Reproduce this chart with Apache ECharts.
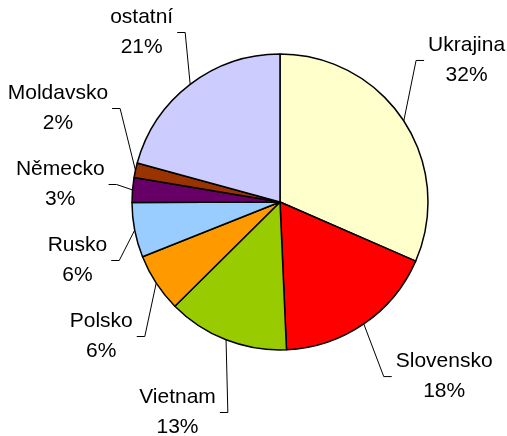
<!DOCTYPE html>
<html>
<head>
<meta charset="utf-8">
<script src="https://cdn.jsdelivr.net/npm/echarts@6/dist/echarts.min.js"></script>
<style>
    html, body { margin: 0; padding: 0; background: #fff; }
    #main { width: 507px; height: 436px; }
</style>
</head>
<body>
<div id="main"></div>
<script>
// data (percent of total)
var countries = ['Ukrajina', 'Slovensko', 'Vietnam', 'Polsko', 'Rusko', 'Německo', 'Moldavsko', 'ostatní'];
var shares = [31.6, 17.8, 13.3, 6.4, 6.0, 2.7, 1.6, 20.8];
var colors = ['#FFFFCC', '#FF0000', '#99CC00', '#FF9900', '#99CCFF', '#660066', '#993300', '#CCCCFF'];

// layout
var CX = 280, CY = 202, RADIUS = 148;
var LABEL_R_LEFT = 176, LABEL_R_RIGHT = 186, RIGHT_SHIFT = -4 * Math.PI / 180;
var LABEL_GAP = 76;
var FONT = 'Liberation Sans, Arial, sans-serif';
var FONT_SIZE = 21;

var total = shares.reduce(function (a, b) { return a + b; }, 0);

function pctText(i) {
    return Math.round(shares[i] / total * 100) + '%';
}

// measure label widths so they can be placed outside the pie like Excel does
var ctx = document.createElement('canvas').getContext('2d');
ctx.font = FONT_SIZE + 'px ' + FONT;

var labelPos = [];
var left = [], right = [];
var cum = 0;
shares.forEach(function (v, i) {
    var a = 2 * Math.PI * (cum + v / 2) / total;
    cum += v;
    var dx = Math.sin(a), dy = -Math.cos(a);
    var side = dx >= 0 ? 1 : -1;
    var la = side > 0 ? a + RIGHT_SHIFT : a;
    var lr = side > 0 ? LABEL_R_RIGHT : LABEL_R_LEFT;
    var ldx = Math.sin(la), ldy = -Math.cos(la);
    var w = Math.max(ctx.measureText(countries[i]).width, ctx.measureText(pctText(i)).width) / 2;
    var item = {
        dx: dx, dy: dy, w: w, side: side,
        x: CX + ldx * lr + side * w,
        y: CY + ldy * lr + Math.max(-29, Math.min(29, 48 * ldy))
    };
    labelPos[i] = item;
    (side > 0 ? right : left).push(item);
});

// push labels apart vertically (least squares, keeps min gap)
function spread(items, gap) {
    items.sort(function (a, b) { return a.y - b.y; });
    var blocks = [];
    items.forEach(function (it, k) {
        blocks.push({ sum: it.y - k * gap, n: 1 });
        while (blocks.length > 1) {
            var b = blocks[blocks.length - 1], p = blocks[blocks.length - 2];
            if (p.sum / p.n > b.sum / b.n) {
                p.sum += b.sum; p.n += b.n; blocks.pop();
            } else break;
        }
    });
    var k = 0;
    blocks.forEach(function (b) {
        for (var j = 0; j < b.n; j++) {
            items[k].y = b.sum / b.n + k * gap;
            k++;
        }
    });
}
spread(left, LABEL_GAP);
spread(right, LABEL_GAP);

labelPos.forEach(function (it) {
    var edge = it.x - it.side * it.w;
    it.line = [
        [CX + it.dx * RADIUS, CY + it.dy * RADIUS],
        [edge - it.side * 12, it.y],
        [edge - it.side * 4, it.y]
    ];
});

var myChart = echarts.init(document.getElementById('main'), null, { renderer: 'canvas' });

var option = {
    animation: false,
    backgroundColor: '#fff',
    series: [{
        type: 'pie',
        center: [CX, CY],
        radius: RADIUS,
        startAngle: 90,
        clockwise: true,
        avoidLabelOverlap: false,
        emphasis: { disabled: true },
        itemStyle: {
            borderColor: '#000',
            borderWidth: 1.5
        },
        label: {
            show: true,
            position: 'outside',
            color: '#000',
            fontFamily: FONT,
            fontSize: FONT_SIZE,
            lineHeight: 30,
            formatter: function (p) {
                return countries[p.dataIndex] + '\n' + pctText(p.dataIndex);
            }
        },
        labelLine: {
            show: true,
            length: 0,
            length2: 0,
            lineStyle: { color: '#000', width: 1 }
        },
        labelLayout: function (p) {
            var L = labelPos[p.dataIndex];
            return {
                x: L.x,
                y: L.y,
                align: 'center',
                verticalAlign: 'middle',
                labelLinePoints: L.line
            };
        },
        data: countries.map(function (name, i) {
            return { name: name, value: shares[i], itemStyle: { color: colors[i] } };
        })
    }]
};

myChart.setOption(option);
</script>
</body>
</html>
